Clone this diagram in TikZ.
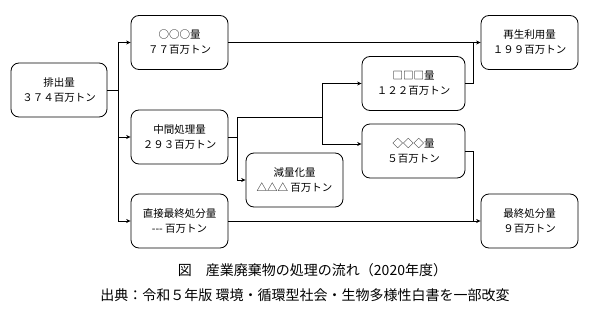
\documentclass[tikz,border=0pt]{standalone}
\usepackage{fontspec}
\setmainfont{Noto Sans CJK JP}
\usetikzlibrary{arrows.meta}
\tikzset{
 box/.style={draw, rounded corners=8pt, line width=0.8pt, minimum width=#1, minimum height=54pt, inner sep=0pt, align=center, font=\fontsize{10.5}{15}\selectfont},
 box/.default=97pt,
 conn/.style={line width=0.8pt},
 arr/.style={conn, -{Stealth[length=4.5pt,width=4pt]}},
 captxt/.style={font=\fontsize{14}{16}\selectfont, inner sep=0pt}
}
\begin{document}
\begin{tikzpicture}[x=1pt,y=-1pt]
\useasboundingbox (0,0) rectangle (593,318);
\node[box=96pt] (emit) at (59,90) {排出量\\３７４百万トン};
\node[box] (ooo) at (179.5,42.5) {○○○量\\７７百万トン};
\node[box] (mid) at (179.5,137) {中間処理量\\２９３百万トン};
\node[box] (direct) at (179.5,221) {直接最終処分量\\-{}-{}- 百万トン};
\node[box] (red) at (294.5,180) {減量化量\\△△△ 百万トン};
\node[box=103pt] (sq) at (413.5,83.5) {□□□量\\１２２百万トン};
\node[box=103pt] (dia) at (413.5,151) {◇◇◇量\\５百万トン};
\node[box] (rec) at (529.5,42.5) {再生利用量\\１９９百万トン};
\node[box] (fin) at (529.5,221) {最終処分量\\９百万トン};
\coordinate (j1) at (118,90);
\coordinate (j2) at (237,137);
\coordinate (j3) at (237,117);
\coordinate (j4) at (322,117);
\coordinate (j5) at (473,42.5);
\coordinate (j6) at (473,221);
\draw[conn] (emit.east) -- (j1);
\draw[arr] (j1) |- (ooo.west);
\draw[arr] (j1) |- (mid.west);
\draw[arr] (j1) |- (direct.west);
\draw[arr] (ooo.east) -- (rec.west);
\draw[conn] (sq.east) -| (j5);
\draw[conn] (mid.east) -- (j2);
\draw[arr] (j3) |- (red.west);
\draw[conn] (j3) -- (j4);
\draw[arr] (j4) |- (sq.west);
\draw[arr] (j4) |- ([yshift=7pt]dia.west);
\draw[arr] (direct.east) -- (fin.west);
\draw[conn] (dia.east) -| (j6);
\node[captxt] (c1) at (312.5,270) {図　産業廃棄物の処理の流れ（2020年度）};
\node[captxt] (c2) at (305,295) {出典：令和５年版 環境・循環型社会・生物多様性白書を一部改変};
\end{tikzpicture}
\end{document}
